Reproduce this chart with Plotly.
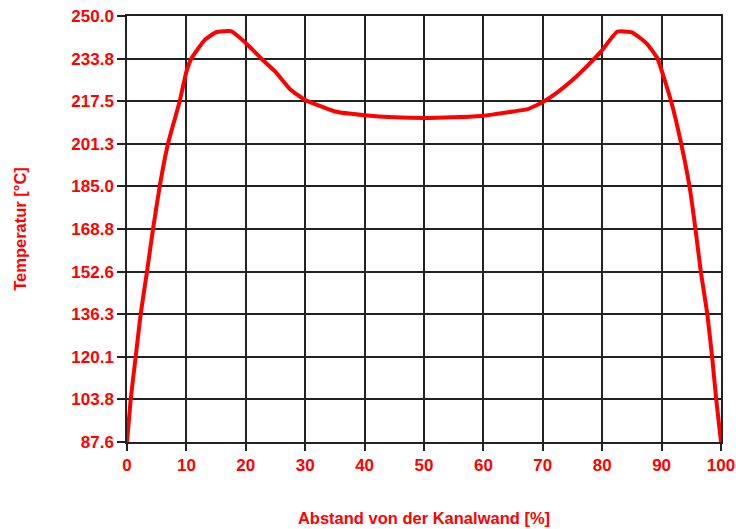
import plotly.graph_objects as go

# Distance from channel wall [%] and temperature [°C]
abstand = [0, 0.62, 1.46, 2.3, 3.37, 4.38, 5.5, 6.9, 8.87, 10.0, 10.84, 13.1, 15.0, 17.5,
           20.0, 22.5, 25.0, 27.5, 30.0, 35.0, 40.0, 45.0, 50.0, 55.0, 60.0, 65.0, 67.5,
           70.0, 72.5, 75.0, 77.5, 80.0, 82.5, 85.0, 87.5, 89.3, 91.6, 93.3, 94.7, 95.7,
           96.6, 97.7, 98.5, 99.2, 100.0]
temperatur = [87.6, 103.8, 120.1, 136.3, 152.6, 168.8, 185.0, 201.3, 217.5, 228.8, 233.8, 240.9, 243.8, 244.2,
              239.7, 234.0, 228.7, 222.0, 218.0, 213.6, 212.2, 211.4, 211.1, 211.4, 212.0, 213.6, 214.5,
              217.2, 221.0, 225.6, 231.0, 237.0, 244.0, 243.8, 239.5, 233.8, 217.5, 201.3, 185.0, 168.8,
              152.6, 136.3, 120.1, 103.8, 87.6]

y_tickvals = [87.6, 103.84, 120.08, 136.32, 152.56, 168.8, 185.04, 201.28, 217.52, 233.76, 250.0]
y_ticktext = ["87.6", "103.8", "120.1", "136.3", "152.6", "168.8", "185.0", "201.3", "217.5", "233.8", "250.0"]
x_tickvals = [0, 10, 20, 30, 40, 50, 60, 70, 80, 90, 100]
x_ticktext = [str(v) for v in x_tickvals]

red = "#FF0000"
font_fam = "Liberation Sans, Arial, sans-serif"

fig = go.Figure()
fig.add_trace(go.Scatter(
    x=abstand, y=temperatur, mode="lines",
    line=dict(color=red, width=4, shape="spline", smoothing=0.4),
    cliponaxis=False, showlegend=False, hoverinfo="x+y",
))

fig.update_layout(
    width=736, height=529,
    margin=dict(l=127, r=15, t=16, b=87),
    paper_bgcolor="white", plot_bgcolor="white",
    font=dict(family=font_fam, color=red, size=17, weight="bold"),
    xaxis=dict(
        range=[0, 100], tickvals=x_tickvals, ticktext=x_ticktext,
        automargin=False, ticklabeloverflow="allow",
        showgrid=True, gridcolor="#222222", gridwidth=1.5,
        showline=True, linecolor="#222222", linewidth=1.5, mirror=True,
        ticks="outside", ticklen=7, tickcolor="#222222", tickwidth=1.5,
        tickfont=dict(family=font_fam, size=17, color=red, weight="bold"),
        zeroline=False,
        title=dict(text="Abstand von der Kanalwand [%]", standoff=38,
                   font=dict(family=font_fam, size=16.5, color=red, weight="bold")),
    ),
    yaxis=dict(
        range=[87.6, 250.0], tickvals=y_tickvals, ticktext=y_ticktext,
        automargin=False, ticklabeloverflow="allow",
        showgrid=True, gridcolor="#222222", gridwidth=1.5,
        showline=True, linecolor="#222222", linewidth=1.5, mirror=True,
        ticks="outside", ticklen=8, tickcolor="#222222", tickwidth=1.5,
        tickfont=dict(family=font_fam, size=17, color=red, weight="bold"),
        zeroline=False,
        title=dict(text="Temperatur [°C]", standoff=41,
                   font=dict(family=font_fam, size=16.5, color=red, weight="bold")),
    ),
)

# remove the default 8px page margin so the figure fills the window exactly
fig.write_html("out.html", config={"displayModeBar": False},
               post_script="document.body.style.margin='0';")
